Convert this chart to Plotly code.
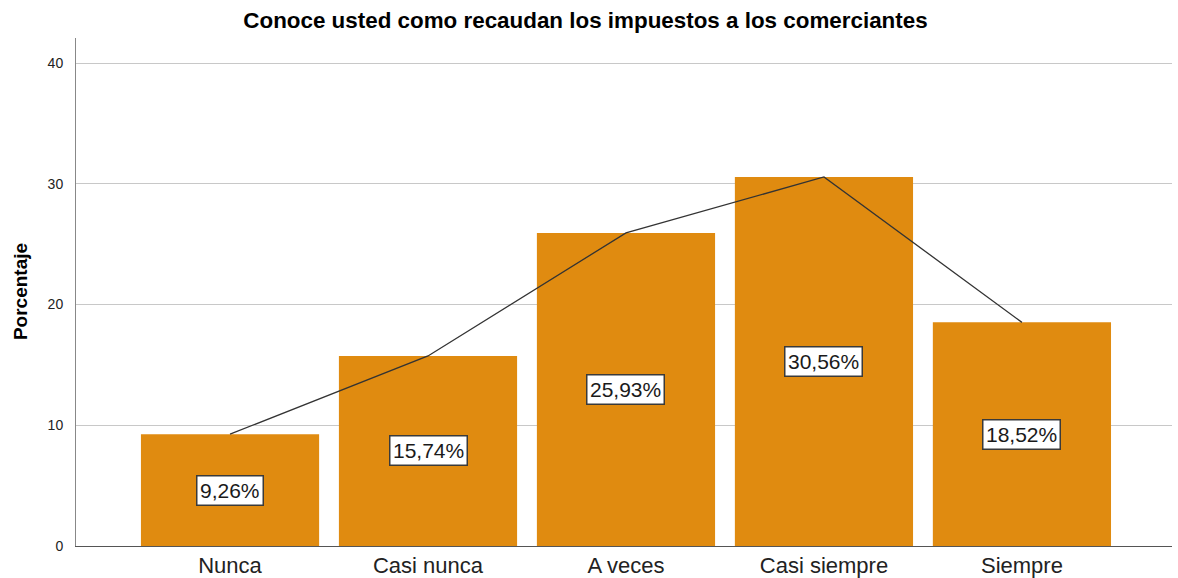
import plotly.graph_objects as go

categories = ["Nunca", "Casi nunca", "A veces", "Casi siempre", "Siempre"]
values = [9.26, 15.74, 25.93, 30.56, 18.52]
labels = ["9,26%", "15,74%", "25,93%", "30,56%", "18,52%"]
y_ticks = [0, 10, 20, 30, 40]

FONT = "Liberation Sans, Arial, sans-serif"
x_idx = list(range(len(categories)))

fig = go.Figure()
fig.add_trace(go.Bar(
    x=x_idx, y=values, width=0.9,
    marker=dict(color="#E08B10", line=dict(width=0)),
    hoverinfo="skip",
))
fig.add_trace(go.Scatter(
    x=x_idx, y=values, mode="lines",
    line=dict(color="#333333", width=1.3),
    hoverinfo="skip",
))
for xi, v, lab in zip(x_idx, values, labels):
    fig.add_annotation(
        x=xi, y=v / 2, text=lab, showarrow=False,
        font=dict(family=FONT, size=21, color="#1a1a1a"),
        bgcolor="white", bordercolor="#3a3a3a", borderwidth=1.5, borderpad=2.5,
    )

fig.add_annotation(
    xref="paper", yref="paper", x=-0.051, y=0.5,
    text="<b>Porcentaje</b>", textangle=-90, showarrow=False,
    xanchor="center", yanchor="middle",
    font=dict(family=FONT, size=19, color="#000000"),
)

fig.update_layout(
    width=1178, height=578,
    margin=dict(l=76, r=6, t=38, b=32),
    paper_bgcolor="white", plot_bgcolor="white",
    showlegend=False,
    title=dict(text="<b>Conoce usted como recaudan los impuestos a los comerciantes</b>",
               x=0.497, xanchor="center", y=0.965, yanchor="middle",
               font=dict(family=FONT, size=22.4, color="#000000")),
    xaxis=dict(
        range=[-0.778, 4.758], tickvals=x_idx, ticktext=categories,
        showgrid=False, showline=True, linecolor="#555555", linewidth=1,
        ticks="", tickfont=dict(family=FONT, size=22, color="#222222"),
        zeroline=False, automargin=False,
    ),
    yaxis=dict(
        range=[0, 42.07], tickvals=y_ticks,
        showgrid=True, gridcolor="#C8C8C8", gridwidth=1,
        showline=True, linecolor="#888888", linewidth=1,
        ticks="", ticklabelstandoff=9,
        tickfont=dict(family=FONT, size=14, color="#222222"),
        zeroline=False, automargin=False,
    ),
    bargap=0.1,
)

fig.write_html("out.html", config={"displayModeBar": False},
               post_script="document.body.style.margin='0';")
